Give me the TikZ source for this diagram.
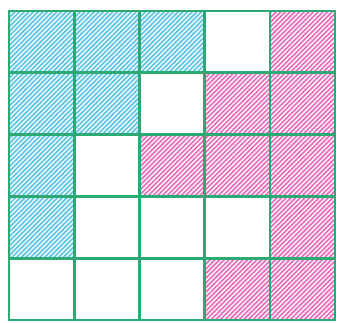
\documentclass[tikz,border=0pt]{standalone}
\usetikzlibrary{patterns.meta}
\definecolor{cellblue}{RGB}{95,198,232}
\definecolor{cellpink}{RGB}{235,110,190}
\definecolor{gridgreen}{RGB}{45,170,115}
\tikzset{
  bluecell/.style={fill=cellblue},
  pinkcell/.style={fill=cellpink},
  hatch/.style={pattern={Lines[angle=45,distance=3.3pt,line width=1.3pt]},pattern color=white},
  gridline/.style={draw=gridgreen,line width=2.6pt}
}
\begin{document}
\begin{tikzpicture}[x=1pt,y=-1pt]
\useasboundingbox (0,0) rectangle (337,323);
\def\xa{9}\def\cw{65.2}\def\ya{11}\def\ch{61.8}
\foreach \r/\c/\k in {0/0/b,0/1/b,0/2/b,0/4/p,
                      1/0/b,1/1/b,1/3/p,1/4/p,
                      2/0/b,2/2/p,2/3/p,2/4/p,
                      3/0/b,3/4/p,
                      4/3/p,4/4/p}{
  \pgfmathsetmacro\xl{\xa+\c*\cw}
  \pgfmathsetmacro\yt{\ya+\r*\ch}
  \if\k b
    \fill[bluecell] (\xl,\yt) rectangle ++(\cw,\ch);
  \else
    \fill[pinkcell] (\xl,\yt) rectangle ++(\cw,\ch);
  \fi
  \fill[hatch] (\xl,\yt) rectangle ++(\cw,\ch);
}
\foreach \i in {0,...,5}{
  \draw[gridline] ({\xa+\i*\cw},\ya) -- ({\xa+\i*\cw},{\ya+5*\ch});
  \draw[gridline] (\xa,{\ya+\i*\ch}) -- ({\xa+5*\cw},{\ya+\i*\ch});
}
\draw[gridline] (\xa,\ya) rectangle ({\xa+5*\cw},{\ya+5*\ch});
\end{tikzpicture}
\end{document}
